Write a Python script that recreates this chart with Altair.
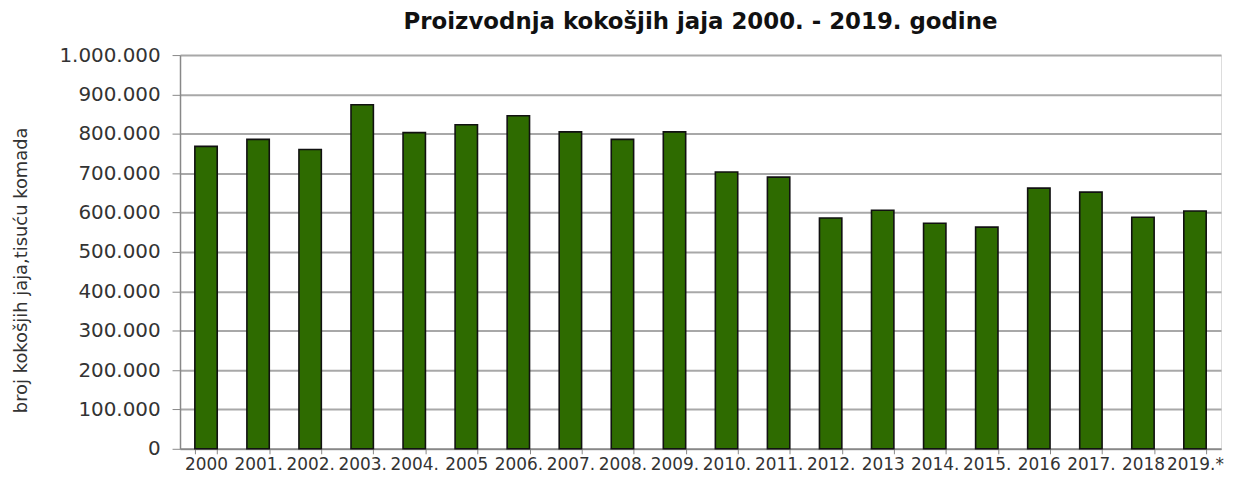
import altair as alt
import pandas as pd

years = ["2000", "2001.", "2002.", "2003.", "2004.", "2005", "2006.", "2007.", "2008.", "2009.",
         "2010.", "2011.", "2012.", "2013", "2014.", "2015.", "2016", "2017.", "2018", "2019.*"]
values = [768000, 786000, 760000, 874000, 803000, 823000, 846000, 805000, 786000, 805000,
          703000, 690000, 586000, 606000, 573000, 563000, 662000, 652000, 588000, 604000]

df = pd.DataFrame({"godina": years, "broj": values})

FONT = "DejaVu Sans"

chart = alt.Chart(df).mark_bar(
    color="#2e6b00", stroke="#111111", strokeWidth=1.6
).encode(
    x=alt.X("godina:N", sort=years, title=None,
            scale=alt.Scale(paddingInner=0.57, paddingOuter=0.285),
            axis=alt.Axis(labelAngle=0, labelFont=FONT, labelFontSize=17, labelColor="#333333",
                          labelPadding=3, tickBand="extent", tickSize=5, tickColor="#888888",
                          domainColor="#888888", domainWidth=1.5, labelOverlap=False,
                          labelBound=False, labelFlush=False)),
    y=alt.Y("broj:Q", title="broj kokošjih jaja,tisuću komada",
            scale=alt.Scale(domain=[0, 1000000], nice=False),
            axis=alt.Axis(values=list(range(0, 1000001, 100000)), format=",d",
                          labelFont=FONT, labelFontSize=20, labelColor="#333333", labelPadding=12,
                          tickSize=8, tickColor="#888888", domainColor="#888888", domainWidth=1.5,
                          gridColor="#a8a8a8", gridWidth=2,
                          titleFont=FONT, titleFontSize=18, titleFontWeight="normal", titleColor="#333333",
                          titleAngle=270, titleX=-159, titleY=216, titleAlign="center",
                          titleBaseline="middle")),
).properties(
    width=1047, height=396,
    title=alt.TitleParams("Proizvodnja kokošjih jaja 2000. - 2019. godine",
                          font=FONT, fontSize=23, fontWeight="bold", color="#111111",
                          anchor="middle", offset=11),
    autosize=alt.AutoSizeParams(type="none"),
    padding={"left": 173, "top": 46, "right": 4, "bottom": 25},
).configure_view(
    stroke="#cccccc", strokeWidth=1
).configure(
    locale={"number": {"decimal": ",", "thousands": ".", "grouping": [3], "currency": ["", " kn"]}},
    background="white"
)

chart.save("out.html", embed_options={"renderer": "svg", "actions": False})
